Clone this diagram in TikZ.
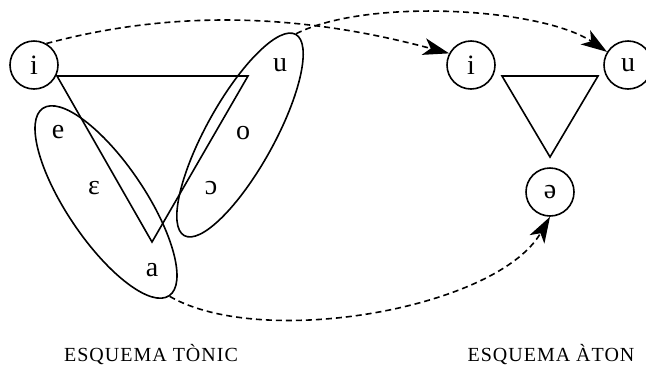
\documentclass[tikz,border=0pt]{standalone}
\usepackage{fontspec}
\setmainfont{Liberation Serif}
\usetikzlibrary{arrows.meta,shapes.geometric}
\tikzset{
	vowel/.style={draw,circle,minimum size=24pt,inner sep=0pt,font=\fontsize{14}{16}\selectfont},
	phone/.style={inner sep=0pt,font=\fontsize{14}{16}\selectfont},
	grp/.style={draw,ellipse,inner sep=0pt},
	link/.style={dash pattern=on 3pt off 2pt,-{Stealth[length=13pt,width=8.5pt,inset=3.5pt]}},
	schema/.style={inner sep=0pt,anchor=base,font=\fontsize{10}{12}\selectfont\addfontfeature{LetterSpace=5}}
}
\begin{document}
\begin{tikzpicture}[x=0.5pt,y=0.5pt,line width=0.8pt]
		\useasboundingbox (0,0) rectangle (646,377);
		% vertexs
		\node[vowel] (iL) at (34,312) {i};
		\node[vowel] (iR) at (471,312) {i};
		\node[vowel] (uR) at (628,312) {u};
		\node[vowel] (schwa) at (550,185) {ə};
		% triangles
		\draw (57,301) -- (248,301) -- (152,135) -- cycle;
		\draw (502,301) -- (598,301) -- (550,220) -- cycle;
		% vocals
		\foreach \x/\y/\v/\n in {58/245/e/e, 94/189/ɛ/eo, 152/107/a/a, 280/312/u/u, 243/244/o/o, 211/189/ɔ/oo} {
			\node[phone] (\n) at (\x,\y) {\v};
		}
		% grups
		\node[grp,minimum width=113pt,minimum height=39pt,rotate=-56] (ellA) at (106,175) {};
		\node[grp,minimum width=115pt,minimum height=34pt,rotate=61] (ellO) at (240,242) {};
		% enllacos
		\draw[link] (iL.60) to[out=15,in=165,looseness=0.9] (iR.152);
		\draw[link] (ellO.east) to[out=27,in=146,looseness=0.65] (uR.148);
		\draw[link] (ellA.east) to[out=-30,in=-120,looseness=0.7] (schwa.south);
		% etiquetes
		\node[schema] (tonic) at (151,16) {ESQUEMA TÒNIC};
		\node[schema] (aton) at (551,16) {ESQUEMA ÀTON};
	\end{tikzpicture}
\end{document}
